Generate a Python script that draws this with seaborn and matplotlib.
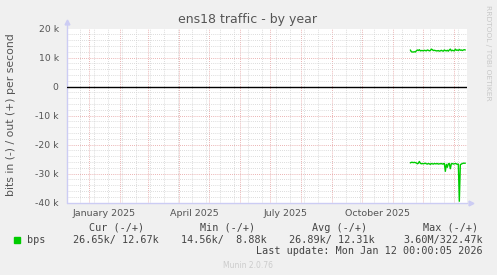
import numpy as np
import pandas as pd
import matplotlib
matplotlib.use("Agg")
import matplotlib.pyplot as plt
import matplotlib.dates as mdates
import matplotlib.ticker as mticker
import seaborn as sns

# ---- data (kbit/s, daily averages) ----
start_date = "2025-11-18"
out_kbps = [12.6, 12.0, 11.9, 11.9, 12.0, 11.9, 12.3, 12.6, 12.4, 12.7,
            12.3, 12.4, 12.4, 12.3, 12.5, 12.4, 12.3, 12.6, 12.5, 12.3,
            12.4, 12.9, 12.7, 12.4, 12.5, 12.4, 12.3, 12.3, 12.4, 12.2,
            12.3, 12.5, 12.3, 12.2, 12.6, 12.4, 12.3, 12.5, 12.2, 12.6,
            12.9, 12.3, 12.5, 12.4, 12.3, 12.9, 12.5, 12.6, 12.4, 12.8,
            12.5, 12.6, 12.4, 12.6, 12.7, 12.6]
in_kbps = [26.3, 26.1, 26.1, 26.2, 26.1, 26.2, 26.3, 26.6, 26.4, 25.8,
           26.4, 26.6, 26.5, 26.6, 26.5, 26.4, 26.6, 26.7, 26.5, 26.6,
           26.8, 26.5, 26.6, 26.7, 26.5, 26.6, 26.6, 26.5, 26.7, 26.6,
           26.6, 26.5, 26.7, 26.6, 26.5, 29.2, 26.8, 27.8, 26.6, 26.5,
           28.3, 26.6, 26.5, 26.7, 26.6, 26.5, 26.6, 26.8, 26.7, 39.5,
           26.9, 26.7, 26.5, 26.4, 26.4, 26.4]

x_start = "2024-12-09 16:00"
x_end = "2026-01-13 16:00"
y_min, y_max = -40000, 20000

month_labels = ["January 2025", "April 2025", "July 2025", "October 2025"]
month_label_dates = ["2025-01-16", "2025-04-16", "2025-07-16", "2025-10-16"]

title = "ens18 traffic - by year"
ylabel = "bits in (-) / out (+) per second"
legend_headers = ["Cur (-/+)", "Min (-/+)", "Avg (-/+)", "Max (-/+)"]
legend_values = ["26.65k/ 12.67k", "14.56k/  8.88k", "26.89k/ 12.31k", "3.60M/322.47k"]
series_name = "bps"
last_update = "Last update: Mon Jan 12 00:00:05 2026"
footer = "Munin 2.0.76"
side_text = "RRDTOOL / TOBI OETIKER"

# ---- build frame ----
dates = pd.date_range(start_date, periods=len(out_kbps), freq="D")
df = pd.DataFrame({
    "date": list(dates) * 2,
    "bps": [v * 1000 for v in out_kbps] + [-v * 1000 for v in in_kbps],
    "dir": ["out"] * len(out_kbps) + ["in"] * len(in_kbps),
})

sns.set_theme(style="white")
plt.rcParams["font.family"] = ["DejaVu Sans"]

W, H = 497, 275
fig = plt.figure(figsize=(W / 100, H / 100), dpi=100)
fig.patch.set_facecolor("#F0F0F0")
left_px, right_px, top_px, bot_px = 67, 467, 28.5, 202.7
ax = fig.add_axes([left_px / W, 1 - bot_px / H, (right_px - left_px) / W, (bot_px - top_px) / H])
ax.set_facecolor("white")

green = "#00CC00"
sns.lineplot(data=df, x="date", y="bps", units="dir", estimator=None,
             color=green, lw=1.0, ax=ax, legend=False, zorder=5)
ax.set_xlabel("")
ax.set_ylabel("")

ax.axhline(0, color="black", lw=1.0, zorder=4)

ax.set_xlim(pd.Timestamp(x_start), pd.Timestamp(x_end))
ax.set_ylim(y_min, y_max)

for s in ax.spines.values():
    s.set_visible(False)

# grids
major_col = "#E49A9A"
minor_col = "#D0D0D0"
ax.xaxis.set_major_locator(mdates.MonthLocator())
ax.xaxis.set_minor_locator(mdates.WeekdayLocator(byweekday=mdates.MO, interval=2))
ax.xaxis.set_major_formatter(mticker.NullFormatter())
ax.yaxis.set_major_locator(mticker.MultipleLocator(10000))
ax.yaxis.set_minor_locator(mticker.MultipleLocator(2000))

def yfmt(v, pos):
    if abs(v) < 1:
        return "0"
    return f"{int(round(v / 1000))} k"
ax.yaxis.set_major_formatter(mticker.FuncFormatter(yfmt))

ax.grid(which="minor", color=minor_col, lw=0.6, ls=(0, (1, 1.5)), zorder=1)
ax.grid(which="major", color=major_col, lw=0.6, ls=(0, (1, 1.5)), zorder=2)
ax.tick_params(axis="x", which="major", length=2, color=major_col, width=0.6, pad=0)
ax.tick_params(axis="x", which="minor", length=0)
ax.tick_params(axis="y", which="both", length=0, pad=6, labelsize=6.7, labelcolor="#555555")

for d, lab in zip(month_label_dates, month_labels):
    ax.text(pd.Timestamp(d), -0.035, lab, transform=ax.get_xaxis_transform(),
            ha="center", va="top", fontsize=6.8, color="#555555")

# axis lines with arrows
axis_col = "#CCCCF4"
ax.plot([0, 0], [0, 1.03], transform=ax.transAxes, color=axis_col, lw=1.0, clip_on=False, zorder=3)
ax.plot([0, 1.0], [0, 0], transform=ax.transAxes, color=axis_col, lw=1.0, clip_on=False, zorder=3)
ax.plot([0], [1.035], marker="^", ms=3.5, color=axis_col, transform=ax.transAxes, clip_on=False)
ax.plot([1.01], [0], marker=">", ms=3.5, color=axis_col, transform=ax.transAxes, clip_on=False)

# texts
def fx(px):
    return px / W
def fy(py):
    return 1 - py / H

fig.text(fx(248), fy(19), title, ha="center", va="center", fontsize=9, color="#555555")
fig.text(fx(11), fy(115), ylabel, rotation=90, ha="center", va="center", fontsize=7.8, color="#555555")
fig.text(fx(488), fy(53), side_text, rotation=270, ha="center", va="center", fontsize=5.4, color="#C8C8C8")

mono = "DejaVu Sans Mono"
lfs = 7.3
lcol = "#444444"
for xh, t in zip([89, 200, 312, 423], legend_headers):
    fig.text(fx(xh), fy(228), t, ha="left", va="center", fontsize=lfs, family=mono, color=lcol)
for xv, t in zip([73, 181, 289, 403], legend_values):
    fig.text(fx(xv), fy(240), t, ha="left", va="center", fontsize=lfs, family=mono, color=lcol)
fig.text(fx(27), fy(240), series_name, ha="left", va="center", fontsize=lfs, family=mono, color=lcol)
fig.patches.append(plt.Rectangle((fx(14), fy(242.5)), 5.5 / W, 5.5 / H, transform=fig.transFigure,
                                 color=green, figure=fig))
fig.text(fx(483), fy(251), last_update, ha="right", va="center", fontsize=lfs, family=mono, color=lcol)
fig.text(fx(248), fy(266), footer, ha="center", va="center", fontsize=5.5, color="#CCCCCC")

fig.savefig("out.png", dpi=100, facecolor=fig.get_facecolor())
